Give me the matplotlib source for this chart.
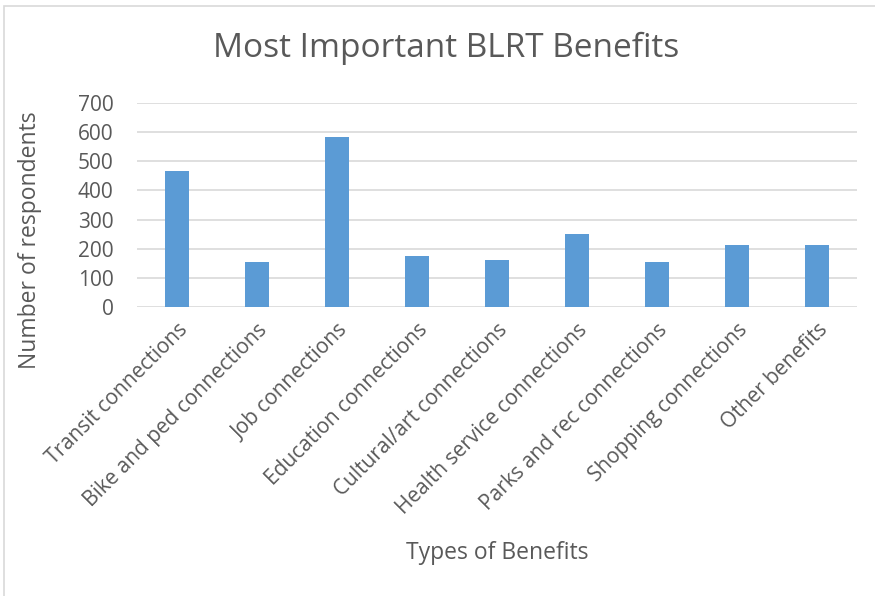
import matplotlib.pyplot as plt
from matplotlib.patches import Rectangle

plt.rcParams['font.family'] = ['Open Sans', 'DejaVu Sans']

# 数据
benefits = ["Transit connections", "Bike and ped connections", "Job connections",
            "Education connections", "Cultural/art connections",
            "Health service connections", "Parks and rec connections",
            "Shopping connections", "Other benefits"]
respondents = [468, 155, 582, 176, 160, 250, 154, 213, 212]

W, H = 875, 596
fig = plt.figure(figsize=(W / 100, H / 100), dpi=100)
ax = fig.add_axes([137 / W, 1 - 307 / H, (857 - 137) / W, (307 - 103) / H])

# 外框
fig.patches.append(Rectangle((4 / W, -0.01), 1.0, 1 - 6 / H + 0.01,
                             transform=fig.transFigure, fill=False,
                             edgecolor="#d9d9d9", linewidth=1.2))

x = list(range(len(benefits)))
ax.bar(x, respondents, width=0.31, color="#5b9bd5", zorder=3)

ax.set_xlim(-0.5, len(benefits) - 0.5)
ax.set_ylim(0, 700)
ax.set_yticks(range(0, 701, 100))
ax.grid(axis="y", color="#d9d9d9", linewidth=1.2, zorder=0)
for s in ax.spines.values():
    s.set_visible(False)

ax.set_xticks(x)
ax.set_xticklabels(benefits, rotation=45, ha="right", rotation_mode="anchor",
                   fontsize=15, color="#595959")
ax.tick_params(axis="x", length=0, pad=9)
ax.tick_params(axis="y", length=0, labelsize=15, labelcolor="#595959", pad=17)

fig.text(446 / W, 1 - 48 / H, "Most Important BLRT Benefits", fontsize=24,
         color="#595959", ha="center", va="center")
ax.set_ylabel("Number of respondents", fontsize=16.5, color="#595959")
ax.yaxis.set_label_coords(-95 / 720, (307 - 240) / 204)
ax.set_xlabel("Types of Benefits", fontsize=16.5, color="#595959")
ax.xaxis.set_label_coords((497 - 137) / 720, -(541 - 307) / 204)

plt.savefig("out.png")
